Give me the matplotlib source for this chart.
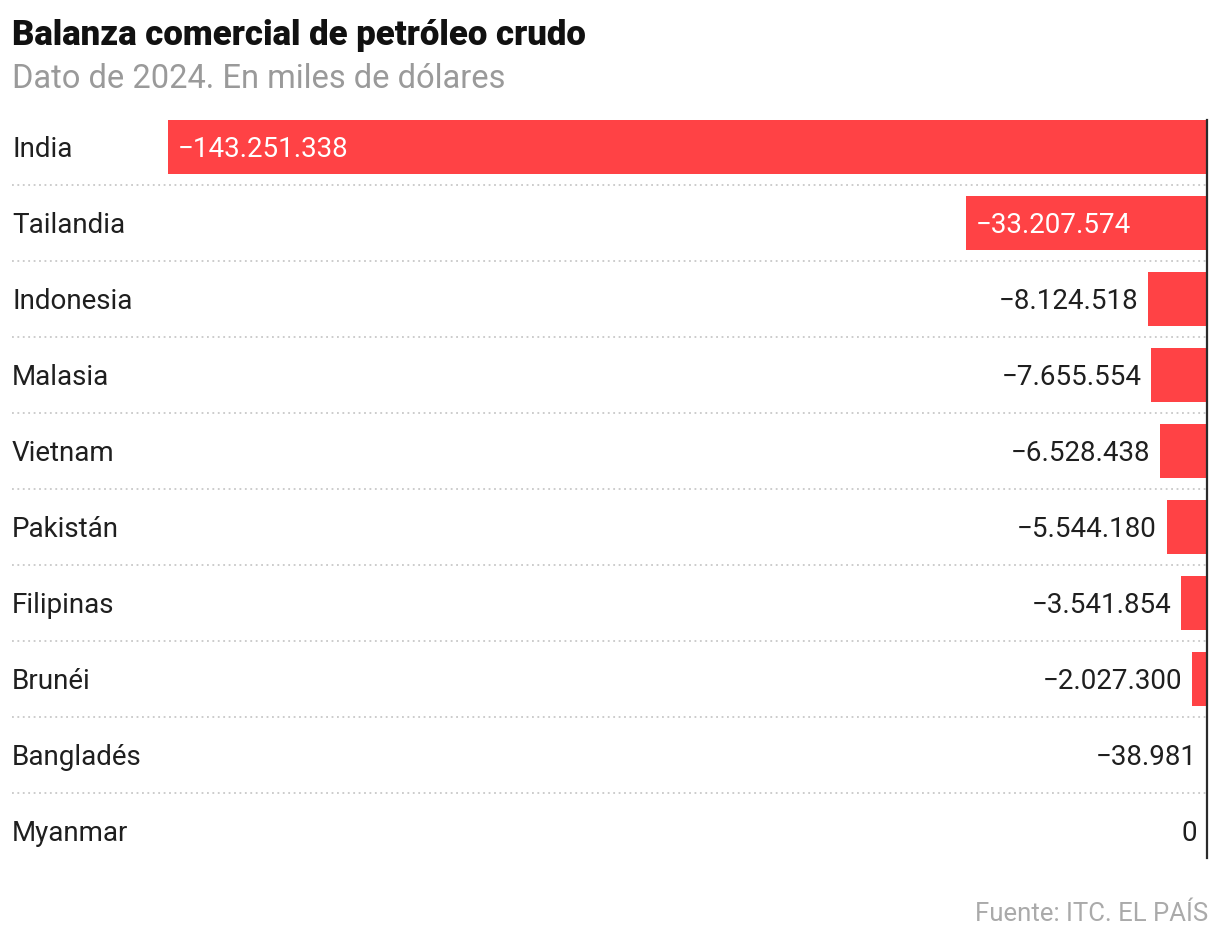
import matplotlib
matplotlib.use("Agg")
import matplotlib.pyplot as plt
from matplotlib.transforms import blended_transform_factory

# Data (miles de dólares, 2024)
countries = ["India", "Tailandia", "Indonesia", "Malasia", "Vietnam",
             "Pakistán", "Filipinas", "Brunéi", "Bangladés", "Myanmar"]
values = [-143251338, -33207574, -8124518, -7655554, -6528438,
          -5544180, -3541854, -2027300, -38981, 0]

title = "Balanza comercial de petróleo crudo"
subtitle = "Dato de 2024. En miles de dólares"
source = "Fuente: ITC. EL PAÍS"

RED = "#ff4245"
TEXT = "#1f1f1f"
GREY = "#9a9a9a"

plt.rcParams["font.family"] = ["Roboto", "DejaVu Sans"]


def fmt(v):
    s = f"{abs(v):,}".replace(",", ".")
    return ("\u2212" + s) if v < 0 else s


W, H = 1220, 942
fig = plt.figure(figsize=(W / 100, H / 100), dpi=100)

ax_left, ax_right = 168, 1207
ax_top, ax_bottom = 120, 858
ax = fig.add_axes([ax_left / W, 1 - ax_bottom / H,
                   (ax_right - ax_left) / W, (ax_bottom - ax_top) / H])

n = len(countries)
bar_h = 0.71
ypos = list(range(n))
ax.barh(ypos, values, height=bar_h, color=RED, zorder=2)
ax.set_xlim(min(values), 0)
ax.set_ylim(n - 1 + bar_h / 2, -bar_h / 2)
ax.axis("off")

# zero line on the right
ax.axvline(0, color="#2b2b2b", lw=1.6, zorder=3, clip_on=False)

# dotted separators spanning the full width
trans = blended_transform_factory(fig.transFigure, ax.transData)
for i in range(n - 1):
    ax.plot([12 / W, ax_right / W], [i + 0.5, i + 0.5], transform=trans,
            color="#c8c8c8", lw=1.3, ls=(0, (1, 2)), clip_on=False, zorder=1)

# country labels
for i, c in enumerate(countries):
    ax.annotate(c, (12 / W, i), xycoords=trans, xytext=(0, -1.5),
                textcoords="offset points", ha="left", va="center",
                fontsize=20, color=TEXT, annotation_clip=False)

# value labels
for i, v in enumerate(values):
    if abs(v) > 20_000_000:
        ax.annotate(fmt(v), (v, i), xytext=(7, -1.5), textcoords="offset points",
                    ha="left", va="center", fontsize=20, color="white")
    else:
        ax.annotate(fmt(v), (v, i), xytext=(-7, -1.5), textcoords="offset points",
                    ha="right", va="center", fontsize=20, color=TEXT)

fig.text(12 / W, 1 - 45 / H, title, ha="left", va="baseline",
         fontsize=25, fontweight="heavy", color="#111111")
fig.text(12 / W, 1 - 88 / H, subtitle, ha="left", va="baseline",
         fontsize=23.5, color=GREY)
fig.text(1208 / W, 1 - 921 / H, source, ha="right", va="baseline",
         fontsize=18.5, color="#aaaaaa")

fig.savefig("out.png", dpi=100)
